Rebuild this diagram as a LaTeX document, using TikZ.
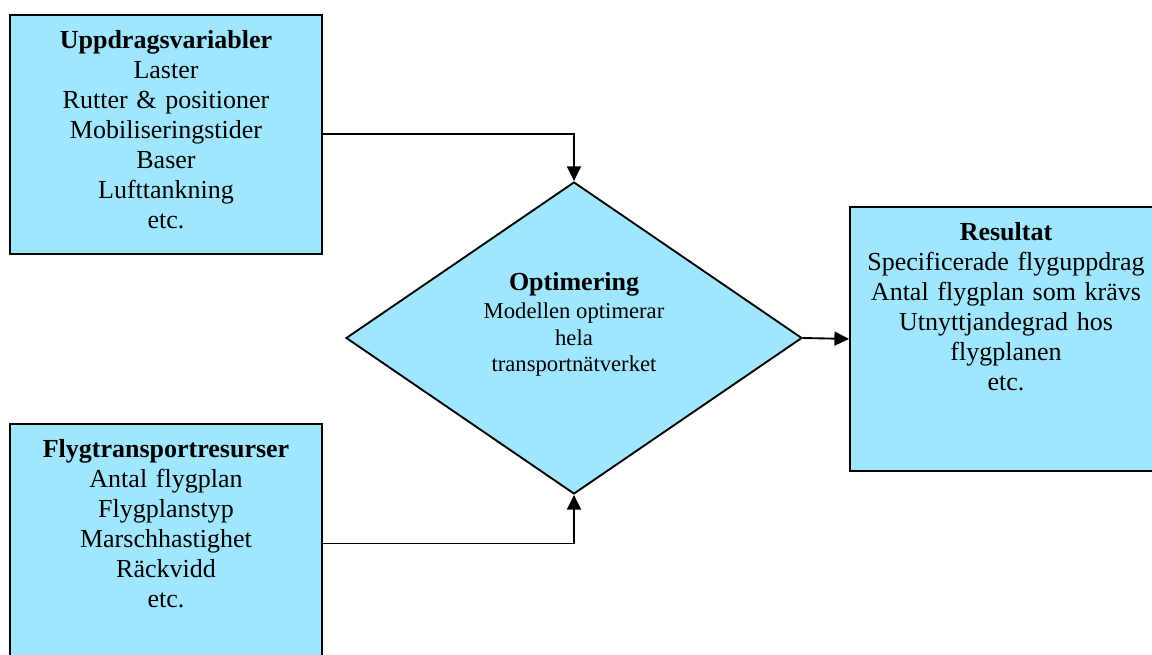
\documentclass[tikz,border=0pt]{standalone}
\usepackage{fontspec}
\setmainfont{Liberation Serif}
\usetikzlibrary{shapes.geometric,arrows.meta}
\definecolor{boxcyan}{RGB}{160,230,254}

\begin{document}
\begin{tikzpicture}[
    x=0.75pt, y=-0.75pt,
    every node/.style={font=\fontsize{19.5}{22.5}\selectfont},
    databox/.style={draw, line width=1.4pt, fill=boxcyan, anchor=north,
      text width=222pt, minimum width=234pt, align=center,
      inner xsep=0pt, inner ysep=0pt, text height=25.5pt},
    optbox/.style={draw, line width=1.4pt, fill=boxcyan, shape=diamond,
      aspect=1.46, minimum width=342pt, minimum height=234pt, inner sep=0pt,
      align=center, font=\fontsize{17}{20}\selectfont,
      text height=83pt, text depth=32pt},
    flow/.style={line width=1.4pt, -{Triangle[length=11pt,width=10.5pt]}}
   ]
   \clip (0,0) rectangle (1152,655);
   % inputs
   \node[databox, text depth=153.75pt] (vars) at (166,14) {\textbf{Uppdragsvariabler}\\
     Laster\\ Rutter \& positioner\\ Mobiliseringstider\\ Baser\\ Lufttankning\\ etc.};
   \node[databox, text depth=153.75pt] (fleet) at (166,423) {\textbf{Flygtransportresurser}\\
     Antal flygplan\\ Flygplanstyp\\ Marschhastighet\\ Räckvidd\\ etc.};
   % model
   \node[optbox] (opt) at (574,338) {{\fontsize{19.5}{22.5}\selectfont\textbf{Optimering}}\\[1pt]
     Modellen optimerar\\ hela\\ transportnätverket};
   % output
   \node[databox, text depth=172.5pt] (res) at (1006,206) {\textbf{Resultat}\\
     Specificerade flyguppdrag\\ Antal flygplan som krävs\\ Utnyttjandegrad hos\\ flygplanen\\ etc.};
   \draw[flow] (vars.east) -| (opt.north);
   \draw[flow] (fleet.east) -| (opt.south);
   \draw[flow] (opt.east) -- (res.west);
  \end{tikzpicture}
\end{document}
